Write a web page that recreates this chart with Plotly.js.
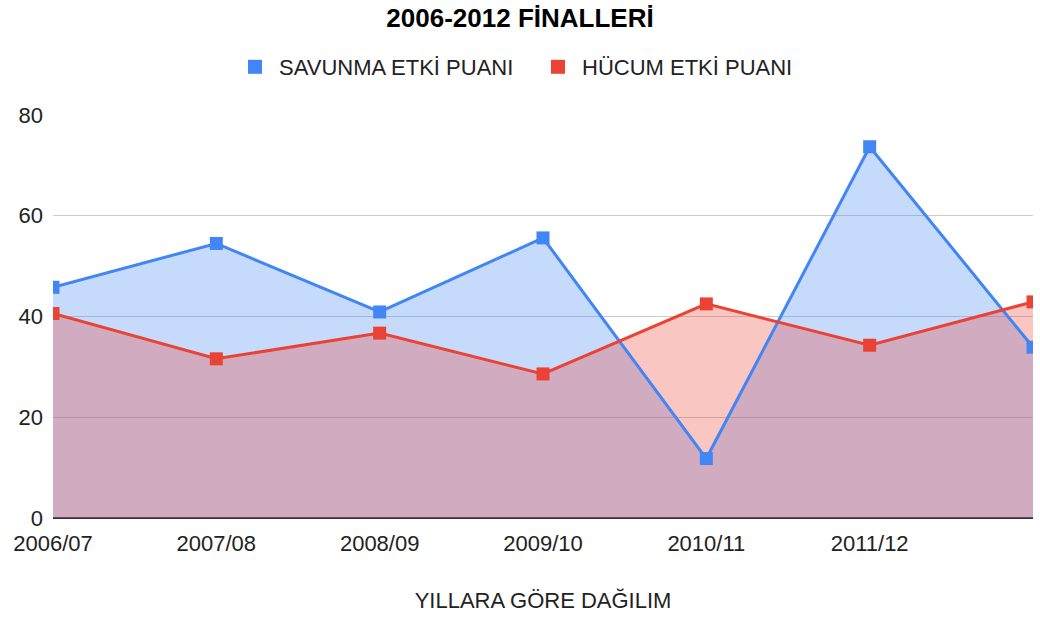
<!DOCTYPE html>
<html>
<head>
<meta charset="utf-8">
<script src="https://cdn.plot.ly/plotly-3.0.1.min.js"></script>
<style>html,body{margin:0;padding:0;background:#fff;}#chart{width:1040px;height:619px;}</style>
</head>
<body>
<div id="chart"></div>
<script>
const categories = ["2006/07", "2007/08", "2008/09", "2009/10", "2010/11", "2011/12", "2012/13"];
const shownTicks = ["2006/07", "2007/08", "2008/09", "2009/10", "2010/11", "2011/12"];
const savunma = [45.8, 54.5, 40.9, 55.6, 11.8, 73.7, 33.9];
const hucum = [40.6, 31.6, 36.7, 28.6, 42.5, 34.3, 42.9];
const seriesNames = ["SAVUNMA ETKİ PUANI", "HÜCUM ETKİ PUANI"];
const yTicks = [0, 20, 40, 60, 80];

const BLUE = "#4285F4", RED = "#EA4335";
const FONT = "'Liberation Sans', Arial, sans-serif";

const traces = [
  // area fills (drawn first so lines stay on top)
  {x: categories, y: savunma, type: "scatter", mode: "none", fill: "tozeroy",
   fillcolor: "rgba(66,133,244,0.3)", showlegend: false, hoverinfo: "skip"},
  {x: categories, y: hucum, type: "scatter", mode: "none", fill: "tozeroy",
   fillcolor: "rgba(234,67,53,0.3)", showlegend: false, hoverinfo: "skip"},
  // lines + markers
  {x: categories, y: savunma, type: "scatter", mode: "lines+markers",
   line: {color: BLUE, width: 3}, marker: {symbol: "square", size: 13, color: BLUE},
   showlegend: false, name: seriesNames[0]},
  {x: categories, y: hucum, type: "scatter", mode: "lines+markers",
   line: {color: RED, width: 3}, marker: {symbol: "square", size: 13, color: RED},
   showlegend: false, name: seriesNames[1]},
  // legend entries
  {x: [null], y: [null], type: "scatter", mode: "markers", name: seriesNames[0],
   marker: {symbol: "square", size: 14, color: BLUE}},
  {x: [null], y: [null], type: "scatter", mode: "markers", name: seriesNames[1],
   marker: {symbol: "square", size: 14, color: RED}}
];

const layout = {
  width: 1040, height: 619,
  paper_bgcolor: "#fff", plot_bgcolor: "#fff",
  font: {family: FONT, color: "#222", size: 22},
  margin: {l: 53, r: 7, t: 115, b: 101},
  title: {text: "<b>2006-2012 FİNALLERİ</b>", font: {family: FONT, size: 26, color: "#000"},
          x: 0.5, xanchor: "center", y: 1 - 18/619, yanchor: "middle", yref: "container"},
  showlegend: true,
  legend: {orientation: "h", x: 0.5 + 14/1040, xanchor: "center", xref: "container",
           y: 1 - 67/619, yanchor: "middle", yref: "container", itemwidth: 38, entrywidth: 250,
           font: {family: FONT, size: 22, color: "#222"}, itemclick: false},
  xaxis: {type: "category", categoryarray: categories, range: [0, 6],
          tickvals: shownTicks, ticktext: shownTicks, showgrid: false, zeroline: false,
          showline: false, ticks: "", tickfont: {size: 22, color: "#222"}, ticklabelstandoff: 10,
          title: {text: "YILLARA GÖRE DAĞILIM", font: {size: 22, color: "#222"}, standoff: 37}},
  yaxis: {range: [0, 80], tickvals: yTicks, showgrid: true, gridcolor: "#cccccc", gridwidth: 1.2,
          zeroline: true, zerolinecolor: "#333333", zerolinewidth: 1.5, showline: false, ticks: "",
          tickfont: {size: 22, color: "#222"}, ticklabelstandoff: 9}
};

Plotly.newPlot("chart", traces, layout, {displayModeBar: false, staticPlot: true});
</script>
</body>
</html>
